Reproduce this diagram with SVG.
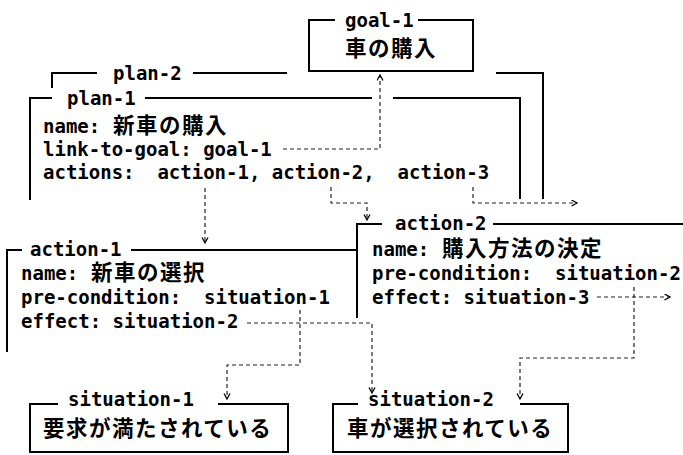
<svg xmlns="http://www.w3.org/2000/svg" width="683" height="455" viewBox="0 0 683 455">
<defs>
<style>
.t{font-family:"DejaVu Sans Mono","Liberation Mono",monospace;font-size:19px;font-weight:bold;fill:#000}
.j{font-family:"Noto Sans CJK JP","Noto Sans CJK SC",sans-serif;font-size:21.5px;font-weight:bold;letter-spacing:1.5px}
.f{fill:none;stroke:#000;stroke-width:2}
.c{fill:none;stroke:#222;stroke-width:1.2;stroke-dasharray:4 3}
</style>
<marker id="ah" markerWidth="8" markerHeight="8" refX="6" refY="3.5" orient="auto" markerUnits="userSpaceOnUse">
<path d="M0.5,0.5 L6,3.5 L0.5,6.5" fill="none" stroke="#000" stroke-width="1.3"/>
</marker>
</defs>
<rect width="683" height="455" fill="#fff"/>

<g id="goal-1">
<path class="f" d="M335 20 H309 V71 H473 V20 H418"/>
<text class="t" x="345" y="27">goal-1</text>
<text class="t" x="345" y="56"><tspan class="j">車の購入</tspan></text>
</g>

<g id="plan-2">
<path class="f" d="M52 88 V73 H97 M193 73 H287 M496 73 H543 V199"/>
<text class="t" x="113" y="80">plan-2</text>
</g>

<g id="plan-1">
<path class="f" d="M30 200 V98 H52 M145 98 H372 M393 98 H520 V199"/>
<text class="t" x="67" y="105">plan-1</text>
<text class="t" x="43" y="133">name: <tspan class="j" x="113">新車の購入</tspan></text>
<text class="t" x="43" y="156">link-to-goal: goal-1</text>
<text class="t" x="43" y="179" xml:space="preserve">actions:  action-1, action-2,  action-3</text>
</g>

<g id="action-1">
<path class="f" d="M22 250 H7 V352 M131 250 H357"/>
<text class="t" x="30" y="256">action-1</text>
<text class="t" x="21" y="280">name: <tspan class="j" x="91">新車の選択</tspan></text>
<text class="t" x="21" y="304" xml:space="preserve">pre-condition:  situation-1</text>
<text class="t" x="21" y="328">effect: situation-2</text>
</g>

<g id="action-2">
<path class="f" d="M382 224 H357 V318 M493 224 H683"/>
<text class="t" x="395" y="230">action-2</text>
<text class="t" x="372" y="256">name: <tspan class="j" x="442">購入方法の決定</tspan></text>
<text class="t" x="372" y="280" xml:space="preserve">pre-condition:  situation-2</text>
<text class="t" x="372" y="304">effect: situation-3</text>
</g>

<g id="situation-1">
<path class="f" d="M58 404 H30 V452 H288 V404 H218"/>
<text class="t" x="68" y="406">situation-1</text>
<text class="t" x="43" y="436"><tspan class="j">要求が満たされている</tspan></text>
</g>

<g id="situation-2">
<path class="f" d="M358 404 H333 V452 H568 V404 H520"/>
<text class="t" x="368" y="406">situation-2</text>
<text class="t" x="347" y="436"><tspan class="j">車が選択されている</tspan></text>
</g>

<g id="connectors">
<path class="c" d="M283 149 H380 V75" marker-end="url(#ah)"/>
<path class="c" d="M205 188 V243" marker-end="url(#ah)"/>
<path class="c" d="M331 187 V203 H367 V220" marker-end="url(#ah)"/>
<path class="c" d="M473 187 V203 H577" marker-end="url(#ah)"/>
<path class="c" d="M597 297 H670" marker-end="url(#ah)"/>
<path class="c" d="M634 287 V358 H520 V399" marker-end="url(#ah)"/>
<path class="c" d="M300 310 V365 H227 V399" marker-end="url(#ah)"/>
<path class="c" d="M247 323 H372 V393" marker-end="url(#ah)"/>
</g>
</svg>
